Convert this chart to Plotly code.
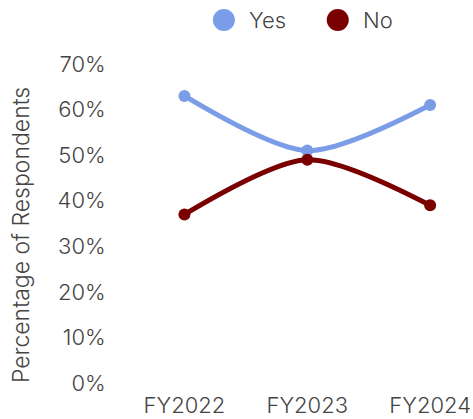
import plotly.graph_objects as go

# Survey responses by fiscal year
years = ["FY2022", "FY2023", "FY2024"]
yes_share = [0.63, 0.51, 0.61]
no_share = [0.37, 0.49, 0.39]
series_names = ["Yes", "No"]
series_colors = ["#7b9ce6", "#7a0000"]
y_title = "Percentage of Respondents"

FONT = "Inter"
TEXT_COLOR = "#444444"
SIZE = 22
WEIGHT = 300

fig = go.Figure()
for name, values, color in zip(series_names, [yes_share, no_share], series_colors):
    fig.add_trace(go.Scatter(
        x=years, y=values, name=name, mode="lines+markers",
        line=dict(color=color, width=5, shape="spline", smoothing=0.8),
        marker=dict(color=color, size=12),
        showlegend=False,
    ))

# Plot area in pixels
PLOT_L, PLOT_W, PLOT_B, PLOT_H = 123, 344.4, 36, 319


def px_x(x):
    return (x - PLOT_L) / PLOT_W


def px_y(y):
    return (419 - PLOT_B - y) / PLOT_H


# Legend drawn as large dots with labels above the plot
legend_x = [224, 338]
for name, color, cx in zip(series_names, series_colors, legend_x):
    fig.add_shape(type="circle", xref="paper", yref="paper",
                  xsizemode="pixel", ysizemode="pixel",
                  xanchor=px_x(cx), yanchor=px_y(20),
                  x0=-11, x1=11, y0=-11, y1=11,
                  fillcolor=color, line=dict(width=0))
    fig.add_annotation(text=name, xref="paper", yref="paper",
                       x=px_x(cx + 23), y=px_y(20),
                       xanchor="left", yanchor="middle", showarrow=False,
                       font=dict(family=FONT, size=SIZE, weight=WEIGHT, color=TEXT_COLOR))

# Vertical axis title
fig.add_annotation(text=y_title, xref="paper", yref="paper",
                   x=px_x(21), y=px_y(235), textangle=-90,
                   xanchor="center", yanchor="middle", showarrow=False,
                   font=dict(family=FONT, size=23, weight=WEIGHT, color=TEXT_COLOR))

fig.update_layout(
    width=473, height=419,
    margin=dict(l=PLOT_L, r=473 - PLOT_L - PLOT_W, t=64, b=PLOT_B, autoexpand=False),
    paper_bgcolor="white", plot_bgcolor="white",
    font=dict(family=FONT, size=SIZE, weight=WEIGHT, color=TEXT_COLOR),
)
fig.update_xaxes(
    type="category", range=[-0.5, 2.3], automargin=False,
    showgrid=False, zeroline=False, showline=False,
    ticks="outside", ticklen=3, tickcolor="rgba(0,0,0,0)",
    tickfont=dict(family=FONT, size=SIZE, weight=WEIGHT, color=TEXT_COLOR),
)
fig.update_yaxes(
    range=[0, 0.7], dtick=0.1, tickformat=".0%", automargin=False,
    showgrid=False, zeroline=False, showline=False,
    ticks="outside", ticklen=12, tickcolor="rgba(0,0,0,0)",
    tickfont=dict(family=FONT, size=SIZE, weight=WEIGHT, color=TEXT_COLOR),
)

fig.write_html("out.html")
